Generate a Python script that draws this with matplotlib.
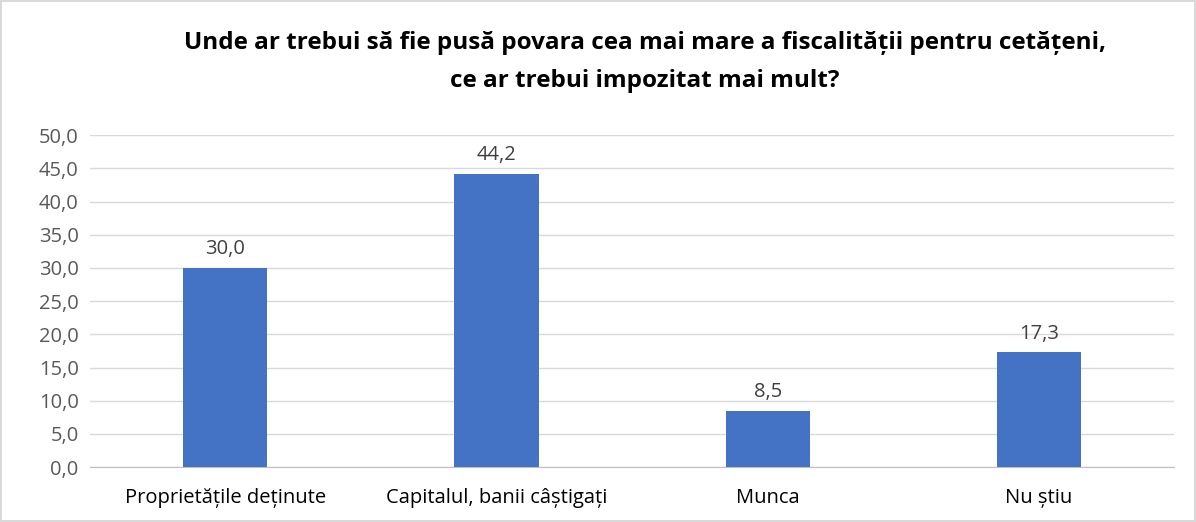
import matplotlib.pyplot as plt
import numpy as np

categories = ["Proprietățile deținute", "Capitalul, banii câștigați", "Munca", "Nu știu"]
values = [30.0, 44.2, 8.5, 17.3]
yticks = [0, 5, 10, 15, 20, 25, 30, 35, 40, 45, 50]
title = "Unde ar trebui să fie pusă povara cea mai mare a fiscalității pentru cetățeni,\nce ar trebui impozitat mai mult?"

plt.rcParams['font.family'] = ['Open Sans', 'DejaVu Sans']

fig = plt.figure(figsize=(11.96, 5.22), dpi=100)
fig.patch.set_edgecolor("#d9d9d9")
fig.patch.set_linewidth(1.5)
ax = fig.add_axes([0.075, 0.105, 0.907, 0.636])

x = np.arange(len(categories))
ax.bar(x, values, width=0.31, color="#4472C4", zorder=3)
for xi, v in zip(x, values):
    ax.text(xi, v + 1.3, f"{v:.1f}".replace(".", ","), ha="center", va="bottom",
            fontsize=14.5, color="#404040")

ax.set_xlim(-0.5, len(categories) - 0.5)
ax.set_ylim(0, 50)
ax.set_yticks(yticks)
ax.set_yticklabels([f"{t:.1f}".replace(".", ",") for t in yticks], fontsize=14.5, color="#595959")
ax.set_xticks(x)
ax.set_xticklabels(categories, fontsize=14.5, color="#000000")
ax.tick_params(axis="y", length=0, pad=8)
ax.tick_params(axis="x", length=0, pad=15)
ax.grid(axis="y", color="#d9d9d9", linewidth=1, zorder=0)
for s in ["top", "right", "left"]:
    ax.spines[s].set_visible(False)
ax.spines["bottom"].set_color("#bfbfbf")

fig.text(0.539, 0.94, title, ha="center", va="top", fontsize=17.5, fontweight="bold",
         color="#000000", linespacing=1.75)

fig.savefig("out.png", dpi=100, edgecolor=fig.get_edgecolor())
